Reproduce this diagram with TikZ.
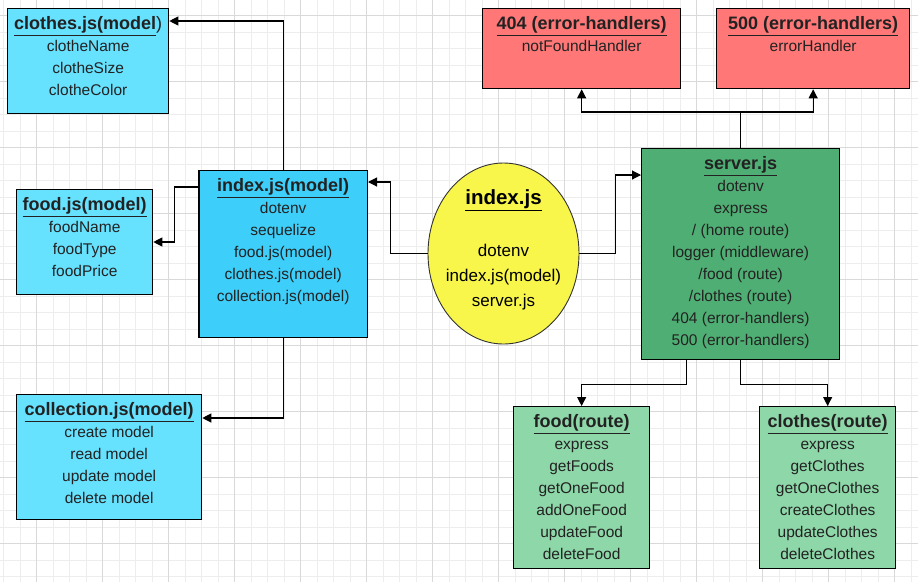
\documentclass[tikz,border=0pt]{standalone}
\usepackage{fontspec}
\setmainfont{Liberation Sans}
\usetikzlibrary{arrows.meta,shapes.geometric}

\definecolor{gridmajor}{HTML}{D9D9D9}
\definecolor{gridminor}{HTML}{EDEDED}
\definecolor{modelcyan}{HTML}{66E2FF}
\definecolor{indexcyan}{HTML}{3DCFFA}
\definecolor{entryyellow}{HTML}{F8F54B}
\definecolor{servergreen}{HTML}{4FAE73}
\definecolor{routegreen}{HTML}{8ED7A8}
\definecolor{handlerred}{HTML}{FF7777}
\definecolor{inktext}{HTML}{222222}

% box content: width, height, title, lines
\newcommand{\boxlines}[4]{\parbox[t][#2pt][t]{#1pt}{\centering
    \rule{0pt}{21pt}{\fontsize{18}{22}\selectfont\bfseries #3}\\#4}}

\begin{document}
\begin{tikzpicture}[x=1pt,y=-1pt,
    modelbox/.style={draw=black, line width=1.3pt, fill=modelcyan,
      inner sep=0pt, anchor=north west, text=inktext,
      font=\fontsize{15.5}{22}\selectfont},
    entrybox/.style={ellipse, draw=black!80, line width=0.9pt,
      fill=entryyellow, inner xsep=-12pt, inner ysep=-12pt,
      minimum width=151pt, minimum height=181pt, align=center,
      text=black, font=\fontsize{17}{25}\selectfont},
    conn/.style={line width=1.1pt, -{Triangle[length=9pt,width=9pt]}},
    plain/.style={line width=1.1pt}]

  \fill[white] (0,0) rectangle (918,582);
  \useasboundingbox (0,0) rectangle (918,582);

  % grid
  \foreach \k in {0,...,55}
    \draw[gridminor, line width=0.8pt] ({3.7+16.5*\k},0) -- ({3.7+16.5*\k},582);
  \foreach \k in {1,...,35}
    \draw[gridminor, line width=0.8pt] (0,{-0.8+16.5*\k}) -- (918,{-0.8+16.5*\k});
  \foreach \k in {0,...,13}
    \draw[gridmajor, line width=1pt] ({36.7+66*\k},0) -- ({36.7+66*\k},582);
  \foreach \k in {0,...,8}
    \draw[gridmajor, line width=1pt] (0,{15.7+66*\k}) -- (918,{15.7+66*\k});

  % models
  \node[modelbox] (clothes) at (7,8)
    {\boxlines{161}{105}{\underline{clothes.js(model}{\mdseries)}}{clotheName\\clotheSize\\clotheColor}};
  \node[modelbox] (foodm) at (16,189)
    {\boxlines{136}{105}{\underline{food.js(model)}}{foodName\\foodType\\foodPrice}};
  \node[modelbox, fill=indexcyan] (idxm) at (198.3,170)
    {\boxlines{168.4}{167}{\underline{index.js(model)}}{dotenv\\sequelize\\food.js(model)\\clothes.js(model)\\collection.js(model)}};
  \node[modelbox] (coll) at (16,394)
    {\boxlines{185}{125}{\underline{collection.js(model)}}{create model\\read model\\update model\\delete model}};

  % entry point
  \node[entrybox] (entry) at (503.5,253.5)
    {{\fontsize{20.5}{25}\selectfont\bfseries\underline{index.js}}\\[27pt]dotenv\\index.js(model)\\server.js\rule[-10pt]{0pt}{10pt}};

  % server and handlers
  \node[modelbox, fill=servergreen] (server) at (641,148)
    {\boxlines{198}{211}{\underline{server.js}}{dotenv\\express\\/ (home route)\\logger (middleware)\\/food (route)\\/clothes (route)\\404 (error-handlers)\\500 (error-handlers)}};
  \node[modelbox, fill=handlerred] (notfound) at (482,8)
    {\boxlines{198}{80}{\underline{404 (error-handlers)}}{notFoundHandler}};
  \node[modelbox, fill=handlerred] (errh) at (716,8)
    {\boxlines{193}{80}{\underline{500 (error-handlers)}}{errorHandler}};

  % routes
  \node[modelbox, fill=routegreen] (foodr) at (513,406)
    {\boxlines{136}{162}{\underline{food(route)}}{express\\getFoods\\getOneFood\\addOneFood\\updateFood\\deleteFood}};
  \node[modelbox, fill=routegreen] (clothr) at (759,406)
    {\boxlines{136}{162}{\underline{clothes(route)}}{express\\getClothes\\getOneClothes\\createClothes\\updateClothes\\deleteClothes}};

  % connectors
  \draw[conn] (idxm.north) |- (clothes.east |- 0,21);
  \draw[conn] (idxm.west |- 0,187) -- ++(-24,0) |- (foodm.east |- 0,242);
  \draw[conn] (idxm.south) |- (coll.east |- 0,418);
  \draw[conn] (entry.west) -- ++(-37,0) |- (idxm.east |- 0,182);
  \draw[conn] (entry.east) -- ++(36,0) |- (server.west |- 0,175);

  \coordinate (srvhub) at ([yshift=36pt]server.north);
  \draw[plain] (server.north) -- (srvhub);
  \draw[conn] (srvhub) -| (notfound.south);
  \draw[conn] (srvhub) -| (errh.south);

  \draw[conn] ([xshift=-54pt]server.south) -- ++(0,24) -| (foodr.north);
  \draw[conn] (server.south) -- ++(0,24) -| (clothr.north);
\end{tikzpicture}
\end{document}
